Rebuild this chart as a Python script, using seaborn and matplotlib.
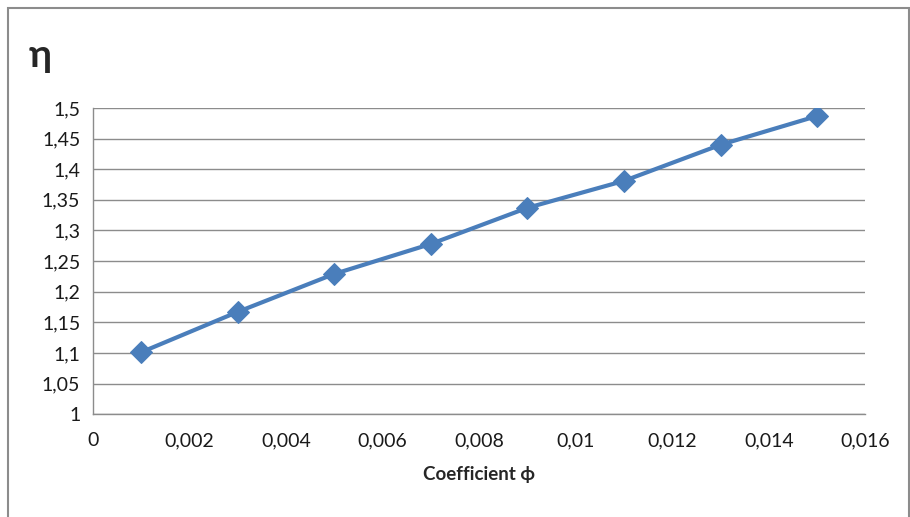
import numpy as np
import pandas as pd
import seaborn as sns
import matplotlib.pyplot as plt
from matplotlib.patches import Rectangle

# data
phi = [0.001, 0.003, 0.005, 0.007, 0.009, 0.011, 0.013, 0.015]
eta = [1.101, 1.167, 1.229, 1.278, 1.337, 1.381, 1.440, 1.487]

x_ticks = [0, 0.002, 0.004, 0.006, 0.008, 0.01, 0.012, 0.014, 0.016]
x_labels = ['0', '0,002', '0,004', '0,006', '0,008', '0,01', '0,012', '0,014', '0,016']
y_ticks = [1, 1.05, 1.1, 1.15, 1.2, 1.25, 1.3, 1.35, 1.4, 1.45, 1.5]
y_labels = ['1', '1,05', '1,1', '1,15', '1,2', '1,25', '1,3', '1,35', '1,4', '1,45', '1,5']

df = pd.DataFrame({'phi': phi, 'eta': eta})

sns.set_style('white')
plt.rcParams['font.family'] = ['Lato', 'DejaVu Sans']

fig = plt.figure(figsize=(9.1, 5.17), dpi=100)
ax = fig.add_axes([0.102, 0.199, 0.849, 0.592])

grid_c = '#8c8c8c'
sns.lineplot(data=df, x='phi', y='eta', ax=ax, color='#4a7ebb', linewidth=3.0,
             marker='D', markersize=11.5, markeredgecolor='#4a7ebb', zorder=3)

ax.set_xlim(0, 0.016)
ax.set_ylim(1, 1.5)
ax.set_xticks(x_ticks)
ax.set_xticklabels(x_labels)
ax.set_yticks(y_ticks)
ax.set_yticklabels(y_labels)
ax.yaxis.grid(True, color=grid_c, linewidth=1)
ax.xaxis.grid(False)
ax.tick_params(axis='both', direction='out', length=6, width=1, color=grid_c,
               labelsize=14, labelcolor='#1a1a1a')
ax.tick_params(axis='x', pad=7)
ax.tick_params(axis='y', pad=3)
for s in ['top', 'right']:
    ax.spines[s].set_visible(False)
for s in ['left', 'bottom']:
    ax.spines[s].set_color(grid_c)
    ax.spines[s].set_linewidth(1)

ax.set_xlabel('Coefficient ϕ', fontsize=13.5, fontweight='bold', labelpad=12)
ax.set_ylabel('')
fig.text(0.031, 0.893, 'η', fontsize=28, fontweight='bold', ha='left', va='center')

# outer chart border
fig.patches.append(Rectangle((0.009, -0.01), 0.99, 0.995, transform=fig.transFigure,
                             fill=False, edgecolor='#8c8c8c', linewidth=1.5))

fig.savefig('out.png', dpi=100)
